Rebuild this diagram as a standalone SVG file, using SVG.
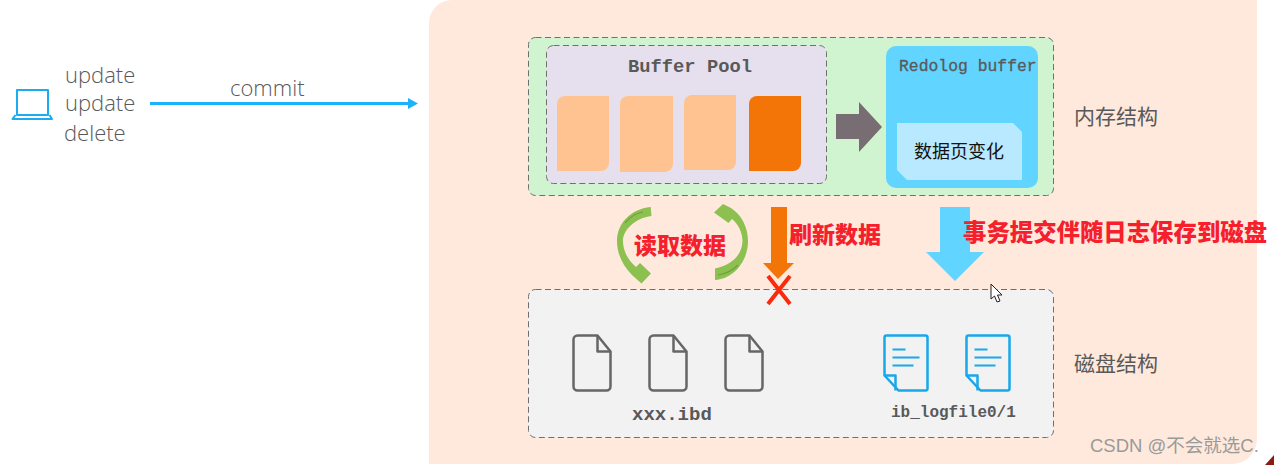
<svg xmlns="http://www.w3.org/2000/svg" width="1274" height="465" viewBox="0 0 1274 465">
<style>
.box{stroke:#6f6f6f;stroke-width:1;stroke-dasharray:6 3.5}
.mono{font-family:"Liberation Mono","DejaVu Sans Mono",monospace;font-weight:700;fill:#595959}
.lab{font-family:"Open Sans","Noto Sans",sans-serif;font-weight:300;font-size:22px;fill:#595959}
.cjk{font-family:"Noto Sans CJK SC",sans-serif;font-size:21px;fill:#595959}
.red{font-family:"Noto Sans CJK SC",sans-serif;font-weight:900;fill:#f5202c}
.page{fill:#ffc391}
.gf{fill:none;stroke:#666;stroke-width:2.5;stroke-linejoin:round}
.bf{fill:none;stroke:#17a8ec;stroke-width:2.5;stroke-linejoin:round}
</style>
<defs>
<path id="pg" d="M8 0H52V67A8 8 0 0 1 44 75H0V8A8 8 0 0 1 8 0Z"/>
<g id="gfile" class="gf"><path d="M4 0H24L37 16V51A4 4 0 0 1 33 55H4A4 4 0 0 1 0 51V4A4 4 0 0 1 4 0Z"/><path d="M24 0V16H37"/></g>
<g id="bfile" class="bf"><path d="M2 0H41A2 2 0 0 1 43 2V53A2 2 0 0 1 41 55H14L0 40V2A2 2 0 0 1 2 0Z"/><path d="M0 40H11V55"/><path d="M8 14H21M8 22H35M8 30H29" stroke-width="2"/></g>
</defs>
<rect width="1274" height="465" fill="#fff"/>
<path d="M452 0H1257V439A25 25 0 0 1 1232 464H429V23A23 23 0 0 1 452 0Z" fill="#fee9dc"/>
<path d="M1265 465L1274 455V465Z" fill="#8b1a10"/>
<g id="client">
<path d="M17 90H48V115H17ZM15.500 115L12.500 119H52L49.500 115" fill="none" stroke="#1aabf0" stroke-width="2" stroke-linejoin="round"/>
<text class="lab" x="65" y="83">update</text>
<text class="lab" x="65" y="111">update</text>
<text class="lab" x="64" y="141">delete</text>
</g>
<g id="memory">
<rect class="box" x="528.500" y="37.500" width="525" height="158" rx="7" fill="#cff4cf"/>
<text class="cjk" x="1074" y="124">内存结构</text>
</g>
<g id="buffer-pool">
<rect class="box" x="546.500" y="45.500" width="280" height="138" rx="7" fill="#e6e0ee"/>
<text class="mono" x="628" y="72" font-size="18.800">Buffer Pool</text>
<use href="#pg" class="page" x="557" y="96"/>
<use href="#pg" class="page" transform="translate(620 96) scale(1.020 1.013)"/>
<use href="#pg" class="page" x="684" y="95"/>
<use href="#pg" x="749" y="96" fill="#f37407"/>
</g>
<g id="redolog-buffer">
<rect x="886" y="46" width="152" height="142" rx="10" fill="#61d4ff"/>
<text class="mono" x="899" y="71" font-size="16.400" style="font-weight:400" stroke="#595959" stroke-width=".3">Redolog buffer</text>
<path d="M897 123H1013L1022 132V180H907L897 170Z" fill="#b9e9ff"/>
<text x="959" y="158" text-anchor="middle" font-family="Noto Sans CJK SC,sans-serif" font-size="18" fill="#111">数据页变化</text>
</g>
<g id="disk">
<rect class="box" x="528.500" y="289.500" width="525" height="148" rx="7" fill="#f2f2f3"/>
<text class="cjk" x="1074" y="371">磁盘结构</text>
</g>
<g id="ibd-files">
<use href="#gfile" x="573.500" y="335.500"/>
<use href="#gfile" x="649.500" y="335.500"/>
<use href="#gfile" x="725.500" y="335.500"/>
<text class="mono" x="632" y="420" font-size="19">xxx.ibd</text>
</g>
<g id="log-files">
<use href="#bfile" x="884.500" y="335.500"/>
<use href="#bfile" x="966.500" y="335.500"/>
<text class="mono" x="891" y="417" font-size="16">ib_logfile0/1</text>
</g>
<g id="connectors">
<path d="M150 103.500H410" stroke="#1ab2fb" stroke-width="3" fill="none"/>
<path d="M408 98L418 103.500L408 109Z" fill="#1ab2fb"/>
<text class="lab" x="230" y="96">commit</text>
<path d="M836 114H859V102L882 127L859 152V139H836Z" fill="#786d72"/>
<path d="M650.700 207C630 209 617 224 617 241C617 254 623 266 632 275L641.500 283.500L651 273.500L640 263L636 267C628 260 623 251 623 241C623 230 635 218 651.500 216Z" fill="#8cc152"/>
<path d="M625 223C630 217 636 213 643 212" fill="none" stroke="#6fa03a" stroke-width="1.200"/>
<path d="M715 268.500C732 265 742 255 742.500 241C742.500 232 738 224 732 219L728.500 223L714 212.500L723 204L731 208C742 215 748 228 748 241C748 262 733 279 715 280Z" fill="#8cc152"/>
<path d="M718 275C726 274 733 270 738 265" fill="none" stroke="#6fa03a" stroke-width="1.200"/>
<path d="M771 207H787V263H794L778 279L763 263H771Z" fill="#f37407"/>
<path d="M768 276L790 304M790 276L768 304" stroke="#f92b0c" stroke-width="4" fill="none"/>
<path d="M940 207H970V252H984L955 281L926 252H940Z" fill="#61d4ff"/>
</g>
<text class="red" x="634" y="254" font-size="23">读取数据</text>
<text class="red" x="789" y="243" font-size="23">刷新数据</text>
<text class="red" x="963" y="241" font-size="23.400">事务提交伴随日志保存到磁盘</text>
<path d="M991 284V299L994.500 296L997 302L1000 301L997.500 295L1002 295Z" fill="#fff" stroke="#222" stroke-width="1"/>
<text x="1090" y="452" font-family="Liberation Sans,Noto Sans CJK SC,sans-serif" font-size="18.500" fill="#9a9a9a">CSDN @不会就选C.</text>
</svg>
